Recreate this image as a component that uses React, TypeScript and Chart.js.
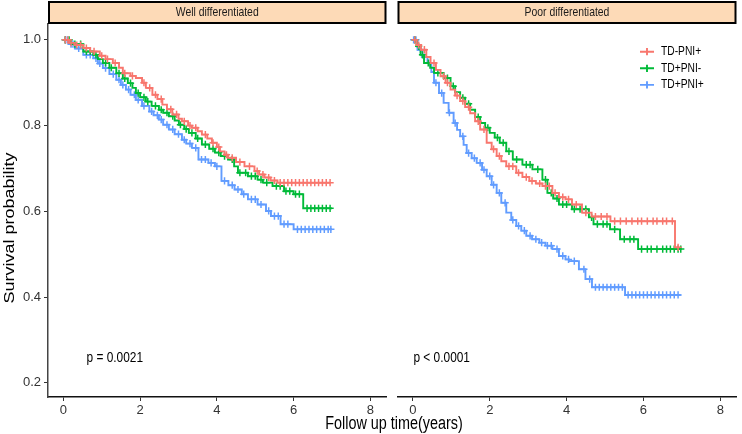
import React, { useEffect, useRef } from "react";
import { Chart, registerables } from "chart.js";
Chart.register(...registerables);

const FONT = "'Liberation Sans', Arial, sans-serif";
const X_TICKS = [0, 2, 4, 6, 8];
const Y_TICKS = [0.2, 0.4, 0.6, 0.8, 1.0];
const PANELS = ["Well differentiated", "Poor differentiated"];
const GROUPS = ["TD-PNI+", "TD+PNI-", "TD+PNI+"];
const COLORS = ["#F8766D", "#00BA38", "#619CFF"];
const P_LABELS = ["p = 0.0021", "p < 0.0001"];
const P_POS_T = [1.34, 0.75];
const P_POS_S = [0.258, 0.258];

// ---- Well differentiated ----
const wellRedT = [0, 0.15, 0.3, 0.52, 0.7, 0.95, 1.1, 1.29, 1.45, 1.55, 1.75, 1.89, 2.05, 2.15, 2.32, 2.45, 2.58, 2.7, 2.84, 3.0, 3.09, 3.25, 3.35, 3.5, 3.61, 3.75, 3.87, 4.0, 4.08, 4.2, 4.29, 4.5, 4.72, 4.98, 5.1, 5.24, 5.4, 5.58, 6.95];
const wellRedS = [1, 0.993, 0.988, 0.981, 0.973, 0.963, 0.955, 0.946, 0.935, 0.922, 0.916, 0.911, 0.9, 0.888, 0.872, 0.862, 0.849, 0.838, 0.826, 0.816, 0.81, 0.8, 0.795, 0.787, 0.779, 0.77, 0.76, 0.75, 0.74, 0.732, 0.725, 0.715, 0.705, 0.694, 0.686, 0.679, 0.672, 0.667, 0.667];
const wellRedC = [0.05, 0.12, 0.2, 0.35, 0.45, 0.6, 0.8, 1.0, 1.15, 1.35, 1.6, 1.8, 2.1, 2.25, 2.4, 2.55, 2.8, 2.95, 3.15, 3.3, 3.45, 3.7, 3.9, 4.05, 4.25, 4.4, 4.6, 4.85, 5.05, 5.2, 5.35, 5.5, 5.65, 5.75, 5.85, 5.95, 6.05, 6.15, 6.25, 6.35, 6.45, 6.55, 6.65, 6.75, 6.85, 6.95];

const wellGreenT = [0, 0.2, 0.52, 0.78, 0.9, 1.03, 1.2, 1.38, 1.55, 1.68, 1.8, 1.89, 2.0, 2.15, 2.3, 2.49, 2.6, 2.75, 2.9, 3.01, 3.15, 3.27, 3.45, 3.61, 3.8, 3.95, 4.1, 4.29, 4.45, 4.55, 4.81, 5.06, 5.2, 5.45, 5.75, 6.0, 6.25, 7.0];
const wellGreenS = [1, 0.99, 0.973, 0.965, 0.955, 0.946, 0.935, 0.922, 0.91, 0.899, 0.888, 0.876, 0.866, 0.856, 0.846, 0.837, 0.83, 0.822, 0.812, 0.802, 0.792, 0.783, 0.77, 0.756, 0.746, 0.737, 0.729, 0.721, 0.705, 0.69, 0.682, 0.674, 0.667, 0.659, 0.647, 0.64, 0.607, 0.607];
const wellGreenC = [0.05, 0.15, 0.3, 0.45, 0.6, 0.7, 0.85, 1.1, 1.25, 1.45, 1.6, 1.75, 1.95, 2.1, 2.2, 2.4, 2.55, 2.7, 2.85, 3.05, 3.2, 3.35, 3.5, 3.7, 3.9, 4.05, 4.2, 4.4, 4.6, 4.75, 4.9, 5.0, 5.15, 5.3, 5.55, 5.65, 5.8, 5.9, 6.05, 6.15, 6.35, 6.45, 6.55, 6.65, 6.75, 6.85, 6.95];

const wellBlueT = [0, 0.15, 0.3, 0.52, 0.78, 0.9, 1.03, 1.2, 1.38, 1.5, 1.63, 1.75, 1.89, 2.05, 2.24, 2.35, 2.49, 2.6, 2.75, 2.9, 3.09, 3.2, 3.35, 3.52, 3.78, 3.95, 4.12, 4.3, 4.46, 4.65, 4.81, 5.06, 5.28, 5.41, 5.66, 6.0, 7.0];
const wellBlueS = [1, 0.99, 0.98, 0.965, 0.957, 0.945, 0.934, 0.92, 0.907, 0.895, 0.884, 0.872, 0.86, 0.846, 0.833, 0.824, 0.814, 0.802, 0.791, 0.78, 0.767, 0.758, 0.748, 0.721, 0.713, 0.705, 0.671, 0.661, 0.651, 0.64, 0.628, 0.616, 0.601, 0.589, 0.57, 0.558, 0.558];
const wellBlueC = [0.05, 0.1, 0.2, 0.25, 0.4, 0.6, 0.7, 0.85, 0.95, 1.1, 1.3, 1.45, 1.55, 1.7, 1.85, 1.95, 2.1, 2.3, 2.45, 2.55, 2.7, 2.85, 3.0, 3.15, 3.3, 3.45, 3.6, 3.7, 3.85, 4.0, 4.2, 4.4, 4.55, 4.7, 4.9, 5.0, 5.15, 5.35, 5.5, 5.6, 5.75, 5.85, 6.1, 6.2, 6.3, 6.4, 6.5, 6.6, 6.7, 6.8, 6.9, 6.97];

// ---- Poor differentiated ----
const poorRedT = [0, 0.1, 0.21, 0.35, 0.46, 0.6, 0.72, 0.85, 0.98, 1.1, 1.23, 1.36, 1.49, 1.62, 1.75, 1.92, 2.05, 2.18, 2.3, 2.43, 2.69, 2.85, 3.03, 3.2, 3.37, 3.63, 3.8, 3.97, 4.14, 4.4, 4.65, 5.14, 6.82, 6.93];
const poorRedS = [1, 0.988, 0.977, 0.96, 0.946, 0.93, 0.915, 0.9, 0.884, 0.87, 0.857, 0.843, 0.829, 0.81, 0.791, 0.76, 0.745, 0.729, 0.717, 0.705, 0.69, 0.68, 0.671, 0.665, 0.659, 0.643, 0.633, 0.628, 0.616, 0.597, 0.588, 0.577, 0.516, 0.516];
const poorRedC = [0.05, 0.15, 0.3, 0.55, 0.8, 0.9, 1.15, 1.3, 1.45, 1.7, 1.85, 2.1, 2.25, 2.5, 2.6, 2.75, 2.95, 3.1, 3.3, 3.45, 3.55, 3.7, 3.9, 4.05, 4.25, 4.5, 4.75, 4.9, 5.05, 5.25, 5.4, 5.55, 5.7, 5.85, 5.95, 6.1, 6.25, 6.35, 6.5, 6.6, 6.75, 6.9];

const poorGreenT = [0, 0.1, 0.2, 0.29, 0.45, 0.55, 0.8, 0.98, 1.1, 1.23, 1.36, 1.49, 1.62, 1.75, 1.88, 2.0, 2.13, 2.26, 2.43, 2.6, 2.85, 3.11, 3.37, 3.5, 3.65, 3.8, 4.14, 4.58, 4.7, 5.13, 5.39, 5.86, 6.97];
const poorGreenS = [1, 0.985, 0.965, 0.946, 0.935, 0.923, 0.911, 0.892, 0.878, 0.865, 0.851, 0.837, 0.82, 0.806, 0.795, 0.783, 0.772, 0.76, 0.74, 0.721, 0.709, 0.698, 0.674, 0.643, 0.63, 0.616, 0.605, 0.586, 0.57, 0.558, 0.535, 0.512, 0.512];
const poorGreenC = [0.05, 0.15, 0.25, 0.4, 0.65, 0.9, 1.05, 1.3, 1.45, 1.7, 1.95, 2.2, 2.35, 2.5, 2.7, 2.95, 3.05, 3.25, 3.45, 3.6, 3.75, 3.9, 4.0, 4.2, 4.35, 4.5, 4.65, 4.8, 4.95, 5.05, 5.25, 5.5, 5.65, 5.75, 5.95, 6.1, 6.2, 6.35, 6.5, 6.6, 6.7, 6.8, 6.9, 6.97];

const poorBlueT = [0, 0.12, 0.25, 0.38, 0.48, 0.55, 0.68, 0.8, 0.93, 1.06, 1.15, 1.23, 1.32, 1.4, 1.53, 1.66, 1.8, 1.92, 2.05, 2.18, 2.3, 2.43, 2.56, 2.69, 2.82, 2.95, 3.1, 3.29, 3.45, 3.63, 3.8, 3.97, 4.06, 4.32, 4.49, 4.66, 5.52, 6.97];
const poorBlueS = [1, 0.977, 0.96, 0.946, 0.925, 0.9, 0.876, 0.853, 0.83, 0.806, 0.79, 0.775, 0.755, 0.736, 0.724, 0.713, 0.697, 0.682, 0.662, 0.643, 0.62, 0.597, 0.58, 0.566, 0.555, 0.543, 0.535, 0.527, 0.52, 0.512, 0.496, 0.488, 0.484, 0.465, 0.442, 0.423, 0.405, 0.405];
const poorBlueC = [0.02, 0.08, 0.2, 0.3, 0.45, 0.6, 0.75, 0.95, 1.1, 1.3, 1.45, 1.6, 1.75, 1.85, 2.0, 2.1, 2.25, 2.4, 2.6, 2.75, 2.9, 3.05, 3.2, 3.35, 3.5, 3.6, 3.75, 3.9, 4.05, 4.2, 4.45, 4.6, 4.75, 4.85, 4.95, 5.05, 5.15, 5.25, 5.35, 5.45, 5.6, 5.7, 5.8, 5.9, 6.0, 6.1, 6.2, 6.3, 6.4, 6.5, 6.6, 6.7, 6.8, 6.9];

type Curve = { t: number[]; s: number[]; c: number[] };
const WELL: Curve[] = [
  { t: wellRedT, s: wellRedS, c: wellRedC },
  { t: wellGreenT, s: wellGreenS, c: wellGreenC },
  { t: wellBlueT, s: wellBlueS, c: wellBlueC },
];
const POOR: Curve[] = [
  { t: poorRedT, s: poorRedS, c: poorRedC },
  { t: poorGreenT, s: poorGreenS, c: poorGreenC },
  { t: poorBlueT, s: poorBlueS, c: poorBlueC },
];

function stepAt(t: number[], s: number[], x: number) {
  let v = s[0];
  for (let i = 0; i < t.length; i++) {
    if (t[i] <= x) v = s[i];
    else break;
  }
  return v;
}

// draws horizontally-condensed text (the reference uses a narrow face)
function drawText(ctx: any, text: string, x: number, y: number, size: number, sx: number, align: string, color: string) {
  ctx.save();
  ctx.translate(x, y);
  ctx.scale(sx, 1);
  ctx.font = `${size}px ${FONT}`;
  ctx.fillStyle = color;
  ctx.textAlign = align;
  ctx.textBaseline = "middle";
  ctx.fillText(text, 0, 0);
  ctx.restore();
}

function makeConfig(panel: number, curves: Curve[], isLeft: boolean): any {
  const datasets: any[] = [];
  curves.forEach((cv, g) => {
    datasets.push({
      type: "line",
      label: GROUPS[g],
      data: cv.t.map((x, i) => ({ x, y: cv.s[i] })),
      stepped: true,
      borderColor: COLORS[g],
      borderWidth: 1.9,
      pointRadius: 0,
      fill: false,
    });
    datasets.push({
      type: "scatter",
      label: GROUPS[g] + " censor",
      data: cv.c.map((x) => ({ x, y: stepAt(cv.t, cv.s, x) })),
      pointStyle: "cross",
      pointRadius: 3.6,
      borderWidth: 1.5,
      borderColor: COLORS[g],
      backgroundColor: COLORS[g],
      showLine: false,
    });
  });

  const decor = {
    id: "decor" + panel,
    afterDraw(chart: any) {
      const ctx = chart.ctx;
      const { left, right } = chart.chartArea;
      ctx.save();
      // strip
      ctx.fillStyle = "#FDDAB7";
      ctx.fillRect(left + 1, 2, right - left - 2, 21);
      ctx.strokeStyle = "#000";
      ctx.lineWidth = 2;
      ctx.strokeRect(left + 1, 2, right - left - 2, 21);
      drawText(ctx, PANELS[panel], (left + right) / 2, 12.5, 13, 0.8, "center", "#1a1a1a");
      // p-value
      const xs = chart.scales.x;
      const ys = chart.scales.y;
      drawText(ctx, P_LABELS[panel], xs.getPixelForValue(P_POS_T[panel]), ys.getPixelForValue(P_POS_S[panel]), 14, 0.85, "center", "#000");
      if (isLeft) {
        ctx.save();
        ctx.translate(10, 228);
        ctx.scale(0.8, 1);
        ctx.rotate(-Math.PI / 2);
        ctx.font = `18px ${FONT}`;
        ctx.fillStyle = "#000";
        ctx.textAlign = "center";
        ctx.textBaseline = "middle";
        ctx.fillText("Survival probability", 0, 0);
        ctx.restore();
      } else {
        // legend
        GROUPS.forEach((g, i) => {
          const y = 51.7 + i * 16.6;
          const x0 = 248;
          ctx.strokeStyle = COLORS[i];
          ctx.lineWidth = 1.9;
          ctx.beginPath();
          ctx.moveTo(x0, y);
          ctx.lineTo(x0 + 14, y);
          ctx.moveTo(x0 + 7, y - 3.6);
          ctx.lineTo(x0 + 7, y + 3.6);
          ctx.stroke();
          drawText(ctx, g, x0 + 21, y, 12.5, 0.82, "left", "#000");
        });
      }
      ctx.restore();
    },
  };

  const tickFont = { size: 13, family: "'Liberation Sans Narrow', " + FONT };
  const yScale: any = {
    type: "linear",
    display: isLeft,
    min: 0.167,
    max: 1.037,
    afterBuildTicks: (ax: any) => {
      ax.ticks = Y_TICKS.map((v) => ({ value: v }));
    },
    ticks: { color: "#333", font: tickFont, padding: 3, callback: (v: any) => Number(v).toFixed(1) },
    grid: { drawOnChartArea: false, drawTicks: true, tickLength: 4, tickColor: "#333", tickWidth: 1 },
    border: { display: true, color: "#444", width: 1.5 },
  };
  if (isLeft) {
    yScale.afterFit = (ax: any) => {
      ax.width = 48;
    };
  }
  return {
    type: "line",
    data: { datasets },
    plugins: [decor],
    options: {
      animation: false,
      responsive: false,
      maintainAspectRatio: false,
      layout: { padding: isLeft ? { left: 0, right: 1, top: 24, bottom: 0 } : { left: 4, right: 2, top: 24, bottom: 0 } },
      plugins: { legend: { display: false }, tooltip: { enabled: false }, title: { display: false } },
      scales: {
        x: {
          type: "linear",
          min: -0.4,
          max: 8.42,
          afterBuildTicks: (ax: any) => {
            ax.ticks = X_TICKS.map((v) => ({ value: v }));
          },
          afterFit: (ax: any) => {
            ax.height = 37;
          },
          ticks: { color: "#333", font: tickFont, padding: 2, maxRotation: 0, autoSkip: false, callback: (v: any) => String(v) },
          grid: { drawOnChartArea: false, drawTicks: true, tickLength: 4, tickColor: "#333", tickWidth: 1 },
          border: { display: true, color: "#111", width: 1.5 },
        },
        y: yScale,
      },
    },
  };
}

function Panel({ panel, curves, isLeft, left, width }: { panel: number; curves: Curve[]; isLeft: boolean; left: number; width: number }) {
  const ref = useRef<HTMLCanvasElement | null>(null);
  useEffect(() => {
    if (!ref.current) return;
    const chart = new Chart(ref.current, makeConfig(panel, curves, isLeft));
    return () => chart.destroy();
  }, []);
  return (
    <canvas
      ref={ref}
      width={width}
      height={434}
      style={{ position: "absolute", left, top: 0, width, height: 434 }}
    />
  );
}

export default function App() {
  return (
    <div style={{ position: "fixed", left: 0, top: 0, width: 742, height: 434, background: "#fff", overflow: "hidden" }}>
      <Panel panel={0} curves={WELL} isLeft={true} left={0} width={392} />
      <Panel panel={1} curves={POOR} isLeft={false} left={392} width={350} />
      <div
        style={{
          position: "absolute",
          left: 194,
          width: 400,
          top: 413,
          textAlign: "center",
          fontFamily: FONT,
          fontSize: 18,
          color: "#000",
          lineHeight: "21px",
          transform: "scaleX(0.8)",
          transformOrigin: "200px 0",
        }}
      >
        Follow up time(years)
      </div>
    </div>
  );
}
